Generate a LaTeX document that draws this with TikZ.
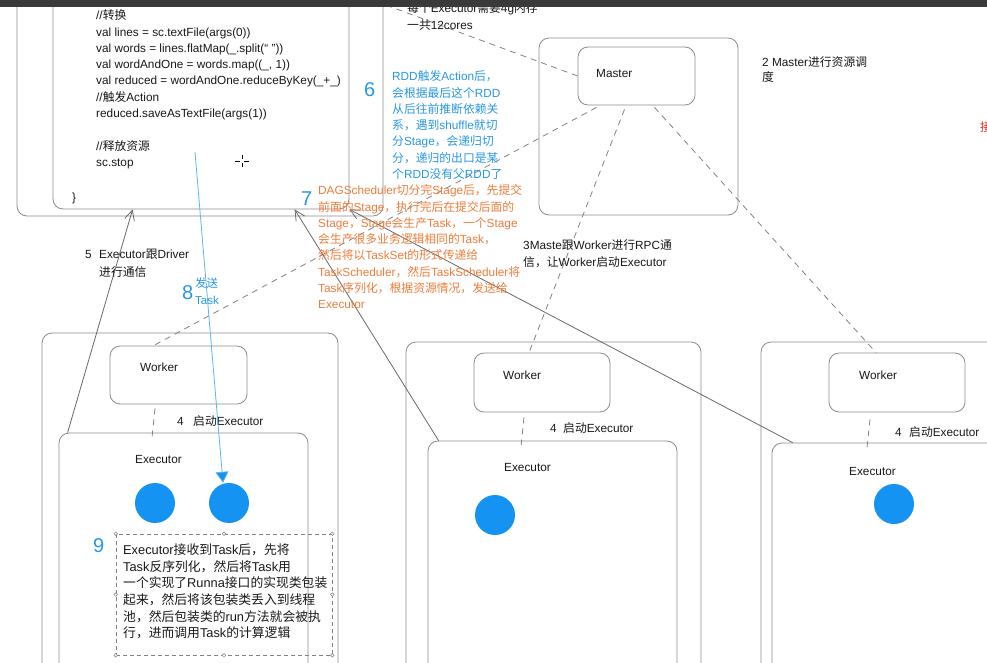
\documentclass[tikz,border=0pt]{standalone}
\usepackage{fontspec}
\setmainfont{Liberation Sans}
\newfontfamily\cjk{Noto Sans CJK SC}
\usetikzlibrary{arrows.meta}
\XeTeXinterchartokenstate=1
\newXeTeXintercharclass\CJKclass
\count255="3000
\loop\XeTeXcharclass\count255=\CJKclass\relax
\ifnum\count255<"9FFF \advance\count255 by 1 \repeat
\count255="FF00
\loop\XeTeXcharclass\count255=\CJKclass\relax
\ifnum\count255<"FFEF \advance\count255 by 1 \repeat
\XeTeXinterchartoks 0 \CJKclass = {\cjk}
\XeTeXinterchartoks 4095 \CJKclass = {\cjk}
\XeTeXinterchartoks \CJKclass 0 = {\rmfamily}
\XeTeXinterchartoks \CJKclass 4095 = {\rmfamily}
\newcommand{\Rs}{\rule{0pt}{12pt}}
\definecolor{boxgray}{RGB}{140,140,140}
\definecolor{linegray}{RGB}{105,105,105}
\definecolor{dashgray}{RGB}{130,130,130}
\definecolor{dotblue}{RGB}{20,147,243}
\definecolor{txtblue}{RGB}{40,152,228}
\definecolor{lineblue}{RGB}{95,180,240}
\definecolor{txtorange}{RGB}{238,125,60}
\definecolor{barcol}{RGB}{58,58,58}
\definecolor{txtblack}{RGB}{25,25,25}
\tikzset{
  box/.style={draw=boxgray, line width=0.8pt, rounded corners=10pt, inner sep=0pt},
  dot/.style={circle, fill=dotblue, draw=none, minimum size=40pt, inner sep=0pt},
  txt/.style={anchor=north west, inner sep=0pt, align=left, text=txtblack,
              font=\fontsize{11.8}{16.3}\selectfont},
  bigdigit/.style={anchor=base west, inner sep=0pt, text=txtblue,
              font=\fontsize{20}{24}\selectfont},
  dashline/.style={draw=dashgray, line width=0.8pt, dash pattern=on 6pt off 5pt},
  arr/.style={draw=linegray, line width=0.8pt, -{Straight Barb[length=10pt,width=10pt]}},
  bluearr/.style={draw=lineblue, line width=0.8pt, -{Triangle[length=11pt,width=13pt,fill=dotblue]}},
}
\begin{document}
\begin{tikzpicture}[x=1pt,y=-1pt]
\useasboundingbox (0,0) rectangle (987,662);
\fill[white] (0,0) rectangle (987,662);
% ---- boxes
\node[box, minimum width=366pt, minimum height=246pt] (driverout) at (200,93) {};
\node[box, minimum width=296pt, minimum height=239pt] (driverin) at (201,89.5) {};
\node[box, minimum width=199pt, minimum height=177pt] (masterout) at (638.5,126.5) {};
\node[box, minimum width=117pt, minimum height=58pt] (master) at (636.5,76) {};
\node[box, minimum width=296pt, minimum height=367pt] (cluster1) at (190,516.5) {};
\node[box, minimum width=137pt, minimum height=58pt] (worker1) at (178.5,375) {};
\node[box, minimum width=249pt, minimum height=267pt] (exec1) at (183.5,566.5) {};
\node[box, minimum width=295pt, minimum height=358pt] (cluster2) at (553.5,521) {};
\node[box, minimum width=136pt, minimum height=59pt] (worker2) at (542,382.5) {};
\node[box, minimum width=249pt, minimum height=259pt] (exec2) at (552.5,570.5) {};
\node[box, minimum width=299pt, minimum height=358pt] (cluster3) at (910.5,521) {};
\node[box, minimum width=136pt, minimum height=59pt] (worker3) at (897,382.5) {};
\node[box, minimum width=268pt, minimum height=257pt] (exec3) at (906,571.5) {};
% ---- task circles
\node[dot] (c1a) at (155,503) {};
\node[dot] (c1b) at (229,503) {};
\node[dot] (c2) at (495,515) {};
\node[dot] (c3) at (894,504) {};
% ---- box labels
\node[txt] (masterlab) at (596,65.5) {\Rs Master};
\node[txt] (w1lab) at (140,359.5) {\Rs Worker};
\node[txt] (w2lab) at (503,367.5) {\Rs Worker};
\node[txt] (w3lab) at (859,367.5) {\Rs Worker};
\node[txt] (e1lab) at (135,451.5) {\Rs Executor};
\node[txt] (e2lab) at (504,459.5) {\Rs Executor};
\node[txt] (e3lab) at (849,463.5) {\Rs Executor};
\node[txt] (s1lab) at (177,413.5) {\Rs\makebox[16pt][l]{4}启动Executor};
\node[txt] (s2lab) at (550,420.5) {\Rs\makebox[13pt][l]{4}启动Executor};
\node[txt] (s3lab) at (895,424.5) {\Rs\makebox[14pt][l]{4}启动Executor};
% ---- code
\node[txt] (code) at (96,7.5) {\Rs//转换\\
val lines = sc.textFile(args(0))\\
val words = lines.flatMap(\_.split(“ ”))\\
val wordAndOne = words.map((\_, 1))\\
val reduced = wordAndOne.reduceByKey(\_+\_)\\
//触发Action\\
reduced.saveAsTextFile(args(1))\\
\mbox{}\\
//释放资源\\
sc.stop};
\node[txt] (brace) at (72,189.5) {\Rs\}};
% ---- cursor
\draw[black, line width=0.8pt] (235,161) -- (240,161) (244,161) -- (249,161)
  (242,155) -- (242,159) (242,163) -- (242,167);
% ---- dashed connectors
\coordinate (topend) at (383,4);
\draw[dashline] (master.west) -- (topend);
\draw[dashline] ([xshift=-40pt,yshift=-2pt]master.south) -- ([xshift=-25pt]worker1.north);
\draw[dashline] ([xshift=-12pt,yshift=-4pt]master.south) -- ([xshift=-13pt]worker2.north);
\draw[dashline] ([xshift=18pt,yshift=-2pt]master.south) -- ([xshift=-21pt]worker3.north);
\draw[dashline] ([xshift=-23.5pt,yshift=-4pt]worker1.south) -- ([xshift=-31.5pt,yshift=-5pt]exec1.north);
\draw[dashline] ([xshift=-18pt,yshift=-5pt]worker2.south) -- ([xshift=-31.5pt,yshift=-6pt]exec2.north);
\draw[dashline] ([xshift=-27pt,yshift=-7pt]worker3.south) -- ([xshift=-39pt,yshift=-5pt]exec3.north);
% ---- solid connectors
\draw[arr] ([xshift=9pt]exec1.north west) -- ([xshift=80pt]driverin.south west);
\draw[arr] ([xshift=11pt]exec2.north west) -- ([xshift=242pt]driverin.south west);
\draw[arr] ([xshift=21pt]exec3.north west) -- (driverin.south east);
% ---- send task
\coordinate (sendstart) at (195,152);
\draw[bluearr] (sendstart) -- ([xshift=-6pt]c1b.north);
% ---- annotations
\node[txt] (topnote) at (407,0.5) {\Rs 每个Executor需要4g内存\\一共12cores};
\node[txt, font=\fontsize{11.8}{15}\selectfont] (sched) at (762,54.5) {\Rs 2 Master进行资源调\\度};
\node[bigdigit] (n6) at (364,96) {6};
\node[txt, text=txtblue] (stagenote) at (392,68.5) {\Rs RDD触发Action后，\\会根据最后这个RDD\\从后往前推断依赖关\\系，遇到shuffle就切\\分Stage，会递归切\\分，递归的出口是某\\个RDD没有父RDD了};
\node[bigdigit] (n7) at (301,205) {7};
\node[txt, text=txtorange] (dagnote) at (318,182.5) {\Rs DAGScheduler切分完Stage后，先提交\\前面的Stage，执行完后在提交后面的\\Stage，Stage会生产Task，一个Stage\\会生产很多业务逻辑相同的Task，\\然后将以TaskSet的形式传递给\\TaskScheduler，然后TaskScheduler将\\Task序列化，根据资源情况，发送给\\Executor};
\node[txt] (rpcnote) at (523,237.5) {\Rs 3Maste跟Worker进行RPC通\\信，让Worker启动Executor};
\node[txt, font=\fontsize{11.8}{17.5}\selectfont] (drvnote) at (85,246.5) {\Rs\makebox[14pt][l]{5}Executor跟Driver\\\hspace*{14pt}进行通信};
\node[bigdigit] (n8) at (182,299) {8};
\node[txt, text=txtblue, font=\fontsize{11.5}{17}\selectfont] (sendnote) at (195,275.5) {\Rs 发送\\Task};
% ---- note 9
\node[draw=dashgray, line width=0.6pt, dash pattern=on 4pt off 3pt, minimum width=216pt, minimum height=121pt, inner sep=0pt] (note9) at (224,594.5) {};
\foreach \a in {north west,north,north east,west,east,south west,south,south east}
  \draw[dashgray, fill=white, line width=0.5pt] (note9.\a) circle (1.8pt);
\node[bigdigit] (n9) at (93,552) {9};
\node[txt, font=\fontsize{12.8}{16.6}\selectfont] (note9txt) at (123,542.5) {\Rs Executor接收到Task后，先将\\Task反序列化，然后将Task用\\一个实现了Runna接口的实现类包装\\起来，然后将该包装类丢入到线程\\池，然后包装类的run方法就会被执\\行，进而调用Task的计算逻辑};
% ---- edge mark (a character cut off at the right edge, as in the reference)
\node[txt, text={rgb,255:red,215;green,35;blue,35}] (redmark) at (980,119.5) {\Rs 接};
% ---- top bar
\fill[barcol] (0,0) rectangle (987,7);
\end{tikzpicture}
\end{document}
